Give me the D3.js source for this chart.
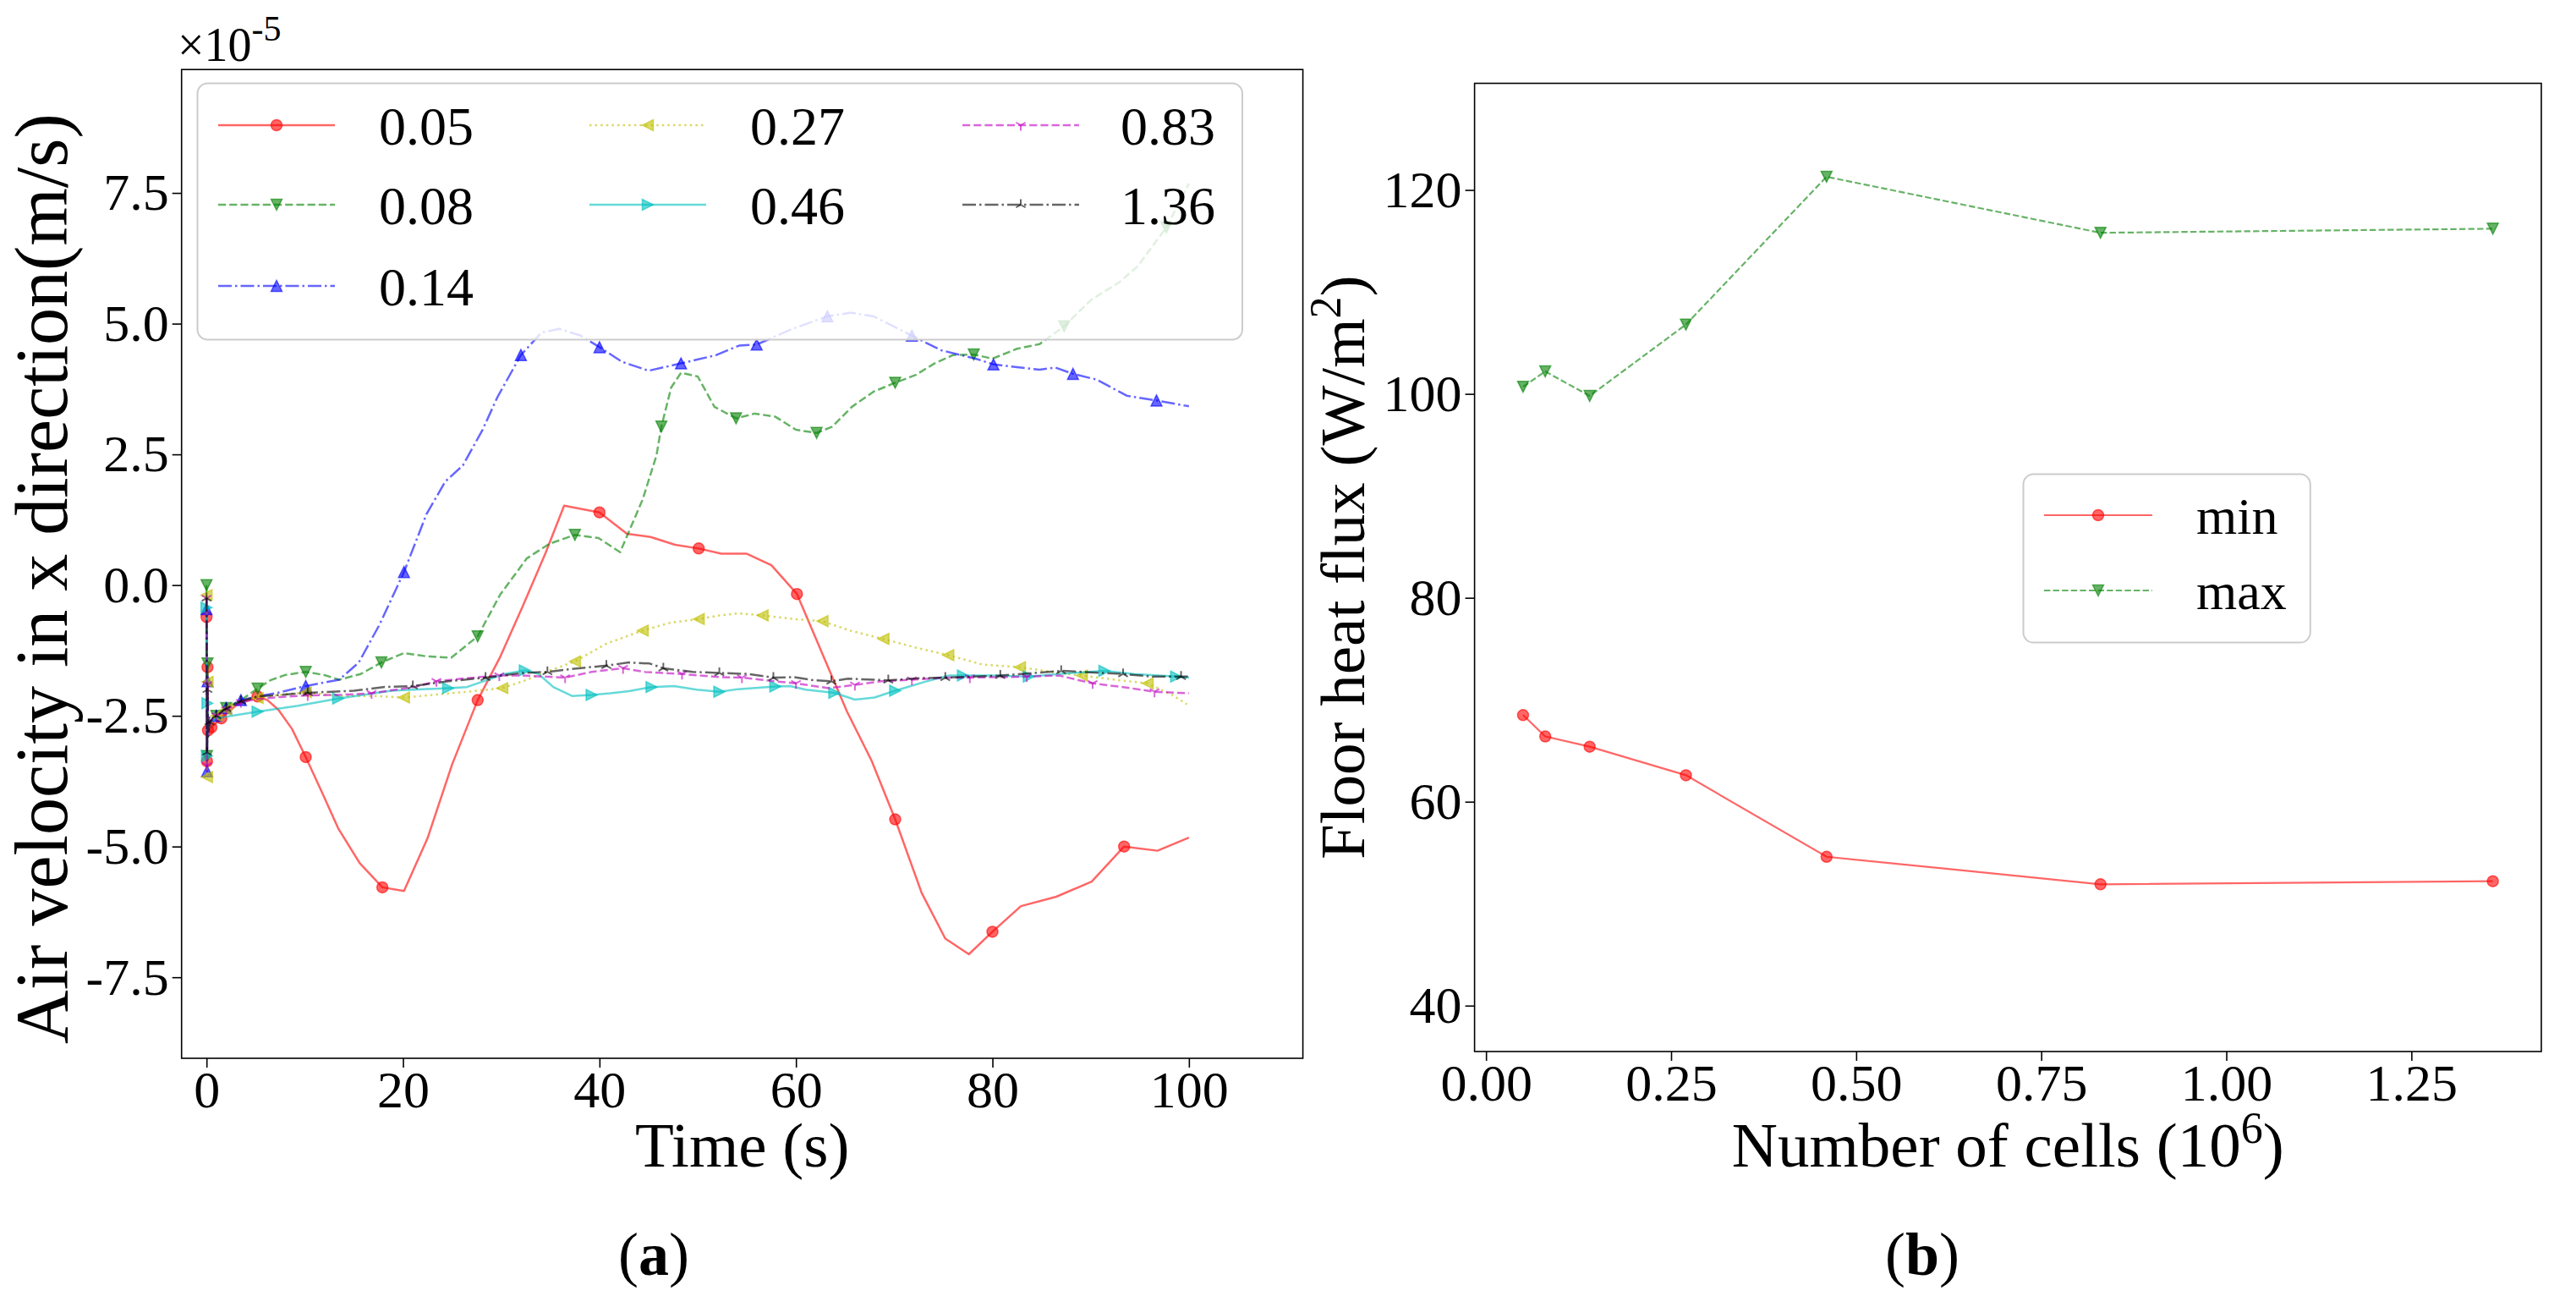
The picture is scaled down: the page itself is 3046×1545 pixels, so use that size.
<!DOCTYPE html>
<html>
<head>
<meta charset="utf-8">
<script src="https://cdn.jsdelivr.net/npm/d3@7"></script>
<style>
  body { margin: 0; background: #fff; }
  svg text { font-family: "Liberation Serif", "Times New Roman", serif; fill: #000; }
</style>
</head>
<body>
<div id="graphicContainer"></div>
<script>

// ---- panel (a): air velocity in x direction (x1e-5 m/s) vs time, one series per mesh (10^6 cells)
const meshLabels = ["0.05", "0.08", "0.14", "0.27", "0.46", "0.83", "1.36"]

// [time (s), velocity (1e-5 m/s), marker shown]
const vel005 = [
  [0, -0.61, 1], [0.05, -3.37, 1], [0.1, -1.57, 1], [0.15, -2.78, 1], [0.25, -2.62, 0], [0.5, -2.72, 1],
  [1.5, -2.55, 1], [3, -2.3, 0], [5.2, -2.13, 1], [6.2, -2.2, 0], [7.3, -2.38, 0], [8.7, -2.75, 0],
  [10.1, -3.29, 1], [11.7, -3.94, 0], [13.4, -4.65, 0], [15.6, -5.32, 0], [17.9, -5.78, 1], [20.1, -5.85, 0],
  [22.5, -4.84, 0], [25.0, -3.43, 0], [27.6, -2.20, 1], [29.9, -1.37, 0], [32.2, -0.40, 0], [34.5, 0.61, 0],
  [36.4, 1.52, 0], [40.0, 1.39, 1], [42.8, 0.98, 0], [45.2, 0.92, 0], [47.7, 0.77, 0], [50.1, 0.70, 1],
  [52.4, 0.60, 0], [55.0, 0.60, 0], [57.5, 0.38, 0], [60.1, -0.17, 1], [62.5, -1.23, 0], [65.2, -2.42, 0],
  [67.7, -3.36, 0], [70.1, -4.48, 1], [72.8, -5.89, 0], [75.2, -6.76, 0], [77.6, -7.06, 0], [80.0, -6.63, 1],
  [82.9, -6.14, 0], [86.5, -5.96, 0], [90.1, -5.67, 0], [93.4, -5.00, 1], [96.8, -5.08, 0], [100, -4.83, 0]
]
const vel008 = [
  [0, 0.0, 1], [0.05, -3.27, 1], [0.1, -1.50, 1], [0.15, -2.9, 0], [0.3, -2.62, 0], [1, -2.5, 1],
  [2, -2.35, 1], [3.5, -2.2, 0], [5.2, -1.98, 1], [6.5, -1.82, 0], [8, -1.72, 0], [10.1, -1.66, 1],
  [12, -1.72, 0], [13.5, -1.81, 0], [15.7, -1.70, 0], [17.8, -1.48, 1], [20.1, -1.30, 0], [22.3, -1.36, 0],
  [24.9, -1.39, 0], [27.6, -0.98, 1], [29.9, -0.18, 0], [32.6, 0.51, 0], [34.9, 0.79, 0], [37.5, 0.96, 1],
  [39.9, 0.90, 0], [42.1, 0.63, 0], [44.4, 1.64, 0], [45.8, 2.48, 0], [46.3, 3.03, 1], [47.3, 3.78, 0],
  [48.3, 4.06, 0], [50.0, 3.99, 0], [51.7, 3.41, 0], [53.9, 3.19, 1], [55.8, 3.28, 0], [57.9, 3.22, 0],
  [60.0, 2.97, 0], [62.1, 2.91, 1], [63.7, 3.03, 0], [65.7, 3.41, 0], [67.9, 3.70, 0], [70.1, 3.87, 1],
  [72.2, 4.02, 0], [74.1, 4.24, 0], [76.0, 4.40, 0], [78.1, 4.41, 1], [80.0, 4.33, 0], [82.5, 4.52, 0],
  [84.8, 4.61, 0], [87.3, 4.95, 1], [90.0, 5.45, 0], [92.9, 5.79, 0], [94.8, 6.10, 0], [97.7, 6.84, 1],
  [100, 7.68, 0]
]
const vel014 = [
  [0, -0.46, 1], [0.05, -3.56, 1], [0.1, -1.84, 1], [0.15, -2.9, 0], [0.3, -2.62, 0], [1, -2.5, 1],
  [2, -2.35, 1], [3.5, -2.2, 1], [5.2, -2.13, 0], [7.5, -2.05, 0], [10.1, -1.93, 1], [13.5, -1.81, 0],
  [15.5, -1.48, 0], [17.6, -0.76, 0], [20.1, 0.25, 1], [22.4, 1.36, 0], [24.3, 1.98, 0], [26.1, 2.29, 0],
  [28.1, 2.97, 0], [29.6, 3.59, 0], [32.0, 4.40, 1], [34.1, 4.83, 0], [35.9, 4.90, 0], [38.1, 4.77, 0],
  [40.0, 4.55, 1], [42.3, 4.27, 0], [45.0, 4.10, 0], [48.3, 4.24, 1], [51.9, 4.40, 0], [54.2, 4.58, 0],
  [56.0, 4.60, 1], [59.5, 4.89, 0], [63.2, 5.14, 1], [65.6, 5.21, 0], [67.9, 5.14, 0], [71.8, 4.77, 1],
  [74.8, 4.49, 0], [78.3, 4.33, 0], [80.1, 4.22, 1], [84.8, 4.12, 0], [86.4, 4.16, 0], [88.2, 4.04, 1],
  [90.6, 3.93, 0], [93.7, 3.62, 0], [96.7, 3.53, 1], [100, 3.42, 0]
]
const vel027 = [
  [0, -0.19, 1], [0.05, -3.67, 1], [0.1, -1.85, 1], [0.15, -2.9, 0], [0.3, -2.62, 0], [1, -2.5, 1],
  [2, -2.38, 1], [3.5, -2.22, 0], [5.2, -2.16, 1], [7.5, -2.1, 0], [10.1, -2.05, 1], [13.5, -2.12, 0],
  [17, -2.12, 0], [20.1, -2.15, 1], [23, -2.1, 0], [26, -2.05, 0], [30.1, -1.97, 1], [32.5, -1.82, 0],
  [35, -1.63, 0], [37.5, -1.46, 1], [40.7, -1.12, 0], [44.4, -0.87, 1], [47.2, -0.72, 0], [50.1, -0.65, 1],
  [52.2, -0.58, 0], [54.1, -0.54, 0], [56.6, -0.58, 1], [59.8, -0.65, 0], [62.7, -0.69, 1], [65.5, -0.87, 0],
  [68.9, -1.03, 1], [72.1, -1.19, 0], [75.5, -1.34, 1], [79.0, -1.52, 0], [82.8, -1.57, 1], [86.0, -1.66, 0],
  [89.1, -1.73, 1], [92.5, -1.81, 0], [95.8, -1.88, 1], [98.3, -2.10, 0], [99.8, -2.28, 0]
]
const vel046 = [
  [0, -0.43, 1], [0.05, -3.27, 1], [0.1, -2.26, 1], [0.15, -2.9, 0], [0.3, -2.62, 0], [1, -2.55, 0],
  [2.5, -2.5, 0], [5.2, -2.42, 1], [9.2, -2.31, 0], [13.4, -2.17, 1], [18.8, -2.02, 0], [24.6, -1.97, 1],
  [26.5, -1.95, 0], [28.5, -1.82, 0], [30.3, -1.70, 0], [32.4, -1.63, 1], [33.8, -1.70, 0], [35.3, -1.95, 0],
  [37.2, -2.12, 0], [39.2, -2.10, 1], [41.1, -2.07, 0], [43, -2.03, 0], [45.3, -1.95, 1], [47.6, -1.93, 0],
  [49.9, -2.00, 0], [52.2, -2.04, 1], [54.1, -1.99, 0], [57.9, -1.94, 1], [59.4, -1.93, 0], [61.0, -2.00, 0],
  [63.9, -2.06, 1], [66.0, -2.19, 0], [68.0, -2.15, 0], [70.1, -2.02, 1], [73.3, -1.84, 0], [75.6, -1.73, 0],
  [77.0, -1.73, 1], [80, -1.73, 0], [83.7, -1.75, 1], [86.8, -1.70, 0], [91.4, -1.64, 1], [94.4, -1.70, 0],
  [98.7, -1.75, 1], [100, -1.77, 0]
]
const vel083 = [
  [0, -0.25, 1], [0.05, -3.45, 1], [0.1, -1.9, 1], [0.15, -2.9, 0], [0.3, -2.62, 0], [1, -2.5, 1],
  [2, -2.38, 1], [3.5, -2.24, 1], [5.2, -2.18, 0], [7.5, -2.14, 0], [10.3, -2.11, 1], [13.6, -2.10, 0],
  [16.8, -2.07, 1], [21.1, -1.95, 0], [23.4, -1.84, 1], [26.5, -1.78, 0], [29.8, -1.73, 1], [32.2, -1.73, 0],
  [36.5, -1.77, 1], [39.2, -1.66, 0], [42.4, -1.59, 1], [44.6, -1.66, 0], [48.4, -1.70, 1], [52.2, -1.76, 0],
  [54.5, -1.77, 1], [57.9, -1.84, 0], [60.0, -1.88, 1], [63.3, -1.97, 0], [66.0, -1.91, 1], [68.7, -1.84, 0],
  [71.8, -1.81, 1], [75.2, -1.77, 0], [77.7, -1.77, 1], [80.5, -1.76, 0], [83.5, -1.75, 1], [86.8, -1.73, 0],
  [90.2, -1.88, 1], [93.3, -1.95, 0], [96.5, -2.04, 1], [100, -2.07, 0]
]
const vel136 = [
  [0, -0.25, 1], [0.05, -3.2, 1], [0.1, -2.0, 1], [0.15, -2.9, 0], [0.3, -2.62, 1], [1, -2.5, 1],
  [2, -2.36, 1], [3.5, -2.22, 1], [5.2, -2.13, 0], [7.5, -2.1, 0], [10.3, -2.06, 1], [15.0, -2.02, 0],
  [18.0, -1.95, 0], [21.0, -1.93, 1], [24.6, -1.84, 0], [28.4, -1.77, 1], [32.2, -1.68, 0], [34.7, -1.66, 1],
  [37.9, -1.59, 0], [40.7, -1.54, 1], [43.0, -1.48, 0], [45.1, -1.50, 0], [46.5, -1.59, 1], [49.5, -1.66, 0],
  [52.2, -1.68, 1], [55.2, -1.70, 0], [57.7, -1.77, 1], [59.8, -1.76, 0], [61.8, -1.82, 0], [63.6, -1.84, 1],
  [65.3, -1.79, 0], [69.4, -1.82, 1], [72.5, -1.78, 0], [75.2, -1.77, 1], [80.8, -1.73, 1], [87.0, -1.64, 1],
  [93.3, -1.70, 1], [96.3, -1.75, 0], [99.2, -1.75, 1], [100, -1.75, 0]
]
const velocitySeries = [vel005, vel008, vel014, vel027, vel046, vel083, vel136]

const timeTicks = [0, 20, 40, 60, 80, 100]
const velocityTicks = [-7.5, -5.0, -2.5, 0.0, 2.5, 5.0, 7.5]

// ---- panel (b): floor heat flux vs number of cells
const cells = [0.05, 0.08, 0.14, 0.27, 0.46, 0.83, 1.36]
const fluxMin = [68.5, 66.4, 65.4, 62.6, 54.6, 51.9, 52.2]
const fluxMax = [100.7, 102.2, 99.8, 106.8, 121.3, 115.8, 116.2]
const fluxLabels = ["min", "max"]

const cellTicks = [0.00, 0.25, 0.50, 0.75, 1.00, 1.25]
const fluxTicks = [40, 60, 80, 100, 120]

// ---- styles (matplotlib-like)
const velStyles = [
  { color: "#ff0000", dash: null, marker: "o" },
  { color: "#008000", dash: "9.2 4", marker: "v" },
  { color: "#0000ff", dash: "16 4 2.5 4", marker: "^" },
  { color: "#bfbf00", dash: "2.5 4.1", marker: "<" },
  { color: "#00bfbf", dash: null, marker: ">" },
  { color: "#bf00bf", dash: "9.2 4", marker: "1" },
  { color: "#000000", dash: "16 4 2.5 4", marker: "2" }
]
const fluxStyles = [
  { color: "#ff0000", dash: null, marker: "o" },
  { color: "#008000", dash: "7.4 3.2", marker: "v" }
]

const width = 3046
const height = 1545
const tickFont = 62
const alpha = 0.6

const svg = d3.select("#graphicContainer").append("svg")
  .attr("width", width)
  .attr("height", height)
  .attr("viewBox", `0 0 ${width} ${height}`)

svg.append("rect").attr("width", width).attr("height", height).attr("fill", "#fff")

function drawMarker(g, type, cx, cy, color, size) {
  const h = size / 2
  let node
  if (type == "o") {
    node = g.append("circle").attr("cx", cx).attr("cy", cy).attr("r", h)
  } else if (type == "v") {
    node = g.append("path").attr("d", `M${cx},${cy + h}L${cx - h},${cy - h}L${cx + h},${cy - h}Z`)
  } else if (type == "^") {
    node = g.append("path").attr("d", `M${cx},${cy - h}L${cx - h},${cy + h}L${cx + h},${cy + h}Z`)
  } else if (type == "<") {
    node = g.append("path").attr("d", `M${cx - h},${cy}L${cx + h},${cy - h}L${cx + h},${cy + h}Z`)
  } else if (type == ">") {
    node = g.append("path").attr("d", `M${cx + h},${cy}L${cx - h},${cy - h}L${cx - h},${cy + h}Z`)
  } else if (type == "1" || type == "2") {
    const s = type == "1" ? 1 : -1
    g.append("path")
      .attr("d", `M${cx},${cy}L${cx},${cy + s * h}M${cx},${cy}L${cx - 0.866 * h},${cy - s * 0.5 * h}M${cx},${cy}L${cx + 0.866 * h},${cy - s * 0.5 * h}`)
      .attr("fill", "none")
      .attr("stroke", color)
      .attr("stroke-opacity", alpha)
      .attr("stroke-width", 2)
    return
  }
  node.attr("fill", color)
    .attr("fill-opacity", alpha)
    .attr("stroke", color)
    .attr("stroke-opacity", alpha)
    .attr("stroke-width", 1.5)
}

function styleAxis(g) {
  g.select(".domain").remove()
  g.selectAll(".tick line").attr("stroke", "#000").attr("stroke-width", 1.6)
  g.selectAll(".tick text")
    .attr("fill", "#000")
    .style("font-family", '"Liberation Serif", "Times New Roman", serif')
    .style("font-size", tickFont + "px")
}

function legendBox(g, x0, y0, w, h) {
  g.append("rect")
    .attr("x", x0).attr("y", y0)
    .attr("width", w).attr("height", h)
    .attr("rx", 12)
    .attr("fill", "#fff")
    .attr("fill-opacity", 0.8)
    .attr("stroke", "#cccccc")
    .attr("stroke-width", 2)
}

// ================= panel (a)
const A = { left: 214.7, right: 1540.6, top: 82.2, bottom: 1251 }

const xA = d3.scaleLinear().domain([-2.54, 111.6]).range([A.left, A.right])
const yA = d3.scaleLinear().domain([-9.05, 9.86]).range([A.bottom, A.top])

const gA = svg.append("g")

velocitySeries.forEach((series, i) => {
  const st = velStyles[i]
  const line = d3.line().x(d => xA(d[0])).y(d => yA(d[1]))
  gA.append("path")
    .datum(series)
    .attr("d", line)
    .attr("fill", "none")
    .attr("stroke", st.color)
    .attr("stroke-opacity", alpha)
    .attr("stroke-width", 2.5)
    .attr("stroke-dasharray", st.dash)
    .attr("stroke-linejoin", "round")
  const gm = gA.append("g")
  series.filter(d => d[2]).forEach(d => drawMarker(gm, st.marker, xA(d[0]), yA(d[1]), st.color, 13))
})

gA.append("g")
  .attr("transform", `translate(0,${A.bottom})`)
  .call(d3.axisBottom(xA).tickValues(timeTicks).tickSize(11).tickPadding(3).tickFormat(d => d))
  .call(styleAxis)

gA.append("g")
  .attr("transform", `translate(${A.left},0)`)
  .call(d3.axisLeft(yA).tickValues(velocityTicks).tickSize(11).tickPadding(4).tickFormat(d => d.toFixed(1)))
  .call(styleAxis)

gA.append("rect")
  .attr("x", A.left).attr("y", A.top)
  .attr("width", A.right - A.left).attr("height", A.bottom - A.top)
  .attr("fill", "none").attr("stroke", "#000").attr("stroke-width", 1.6)

// legend (a): 3 columns, filled column-wise
const legA = gA.append("g")
legendBox(legA, 233.5, 98.5, 1469 - 233.5, 401.5 - 98.5)
const colHandle = [258, 697, 1138]
const colText = [448, 887, 1325]
const rowY = [148, 242, 338]
meshLabels.forEach((label, i) => {
  const st = velStyles[i]
  const col = i < 3 ? 0 : i < 5 ? 1 : 2
  const row = i < 3 ? i : i < 5 ? i - 3 : i - 5
  const y = rowY[row]
  legA.append("line")
    .attr("x1", colHandle[col]).attr("x2", colHandle[col] + 138)
    .attr("y1", y).attr("y2", y)
    .attr("stroke", st.color).attr("stroke-opacity", alpha)
    .attr("stroke-width", 2.5).attr("stroke-dasharray", st.dash)
  drawMarker(legA, st.marker, colHandle[col] + 69, y, st.color, 13)
  legA.append("text")
    .attr("x", colText[col]).attr("y", y + 23)
    .style("font-size", "64px")
    .text(label)
})

// offset text
const off = gA.append("text").attr("x", 210).attr("y", 72).style("font-size", "56px")
off.append("tspan").text("×10")
off.append("tspan").attr("dy", -24).style("font-size", "42px").text("-5")

gA.append("text")
  .attr("transform", `translate(79,684) rotate(-90)`)
  .attr("text-anchor", "middle")
  .style("font-size", "88px")
  .text("Air velocity in x direction(m/s)")

gA.append("text")
  .attr("x", (A.left + A.right) / 2).attr("y", 1379)
  .attr("text-anchor", "middle")
  .style("font-size", "75px")
  .text("Time (s)")

const capA = gA.append("text").attr("x", 773).attr("y", 1507).attr("text-anchor", "middle").style("font-size", "72px")
capA.append("tspan").text("(")
capA.append("tspan").attr("font-weight", "bold").text("a")
capA.append("tspan").text(")")

// ================= panel (b)
const B = { left: 1743.6, right: 3005, top: 98.5, bottom: 1243 }

const xB = d3.scaleLinear().domain([-0.0155, 1.4255]).range([B.left, B.right])
const yB = d3.scaleLinear().domain([35.5, 130.46]).range([B.bottom, B.top])

const gB = svg.append("g")

;[fluxMin, fluxMax].forEach((vals, i) => {
  const st = fluxStyles[i]
  const pts = cells.map((c, j) => [c, vals[j]])
  gB.append("path")
    .datum(pts)
    .attr("d", d3.line().x(d => xB(d[0])).y(d => yB(d[1])))
    .attr("fill", "none")
    .attr("stroke", st.color)
    .attr("stroke-opacity", alpha)
    .attr("stroke-width", 2.2)
    .attr("stroke-dasharray", st.dash)
  pts.forEach(d => drawMarker(gB, st.marker, xB(d[0]), yB(d[1]), st.color, 13))
})

gB.append("g")
  .attr("transform", `translate(0,${B.bottom})`)
  .call(d3.axisBottom(xB).tickValues(cellTicks).tickSize(11).tickPadding(3).tickFormat(d => d.toFixed(2)))
  .call(styleAxis)

gB.append("g")
  .attr("transform", `translate(${B.left},0)`)
  .call(d3.axisLeft(yB).tickValues(fluxTicks).tickSize(11).tickPadding(4).tickFormat(d => d))
  .call(styleAxis)

gB.append("rect")
  .attr("x", B.left).attr("y", B.top)
  .attr("width", B.right - B.left).attr("height", B.bottom - B.top)
  .attr("fill", "none").attr("stroke", "#000").attr("stroke-width", 1.6)

const legB = gB.append("g")
legendBox(legB, 2392.5, 560.6, 2731.8 - 2392.5, 759.6 - 560.6)
fluxLabels.forEach((label, i) => {
  const st = fluxStyles[i]
  const y = 609 + i * 89
  legB.append("line")
    .attr("x1", 2417).attr("x2", 2545)
    .attr("y1", y).attr("y2", y)
    .attr("stroke", st.color).attr("stroke-opacity", alpha)
    .attr("stroke-width", 2.2).attr("stroke-dasharray", st.dash)
  drawMarker(legB, st.marker, 2481, y, st.color, 13)
  legB.append("text")
    .attr("x", 2597).attr("y", y + 22)
    .style("font-size", "62px")
    .text(label)
})

const ylabB = gB.append("text")
  .attr("transform", `translate(1613,${(B.top + B.bottom) / 2}) rotate(-90)`)
  .attr("text-anchor", "middle")
  .style("font-size", "75px")
ylabB.append("tspan").text("Floor heat flux (W/m")
ylabB.append("tspan").attr("dy", -28).style("font-size", "52px").text("2")
ylabB.append("tspan").attr("dy", 28).text(")")

const xlabB = gB.append("text")
  .attr("x", (B.left + B.right) / 2).attr("y", 1379)
  .attr("text-anchor", "middle")
  .style("font-size", "75px")
xlabB.append("tspan").text("Number of cells (10")
xlabB.append("tspan").attr("dy", -28).style("font-size", "52px").text("6")
xlabB.append("tspan").attr("dy", 28).text(")")

const capB = gB.append("text").attr("x", 2273).attr("y", 1507).attr("text-anchor", "middle").style("font-size", "72px")
capB.append("tspan").text("(")
capB.append("tspan").attr("font-weight", "bold").text("b")
capB.append("tspan").text(")")

</script>
</body>
</html>
